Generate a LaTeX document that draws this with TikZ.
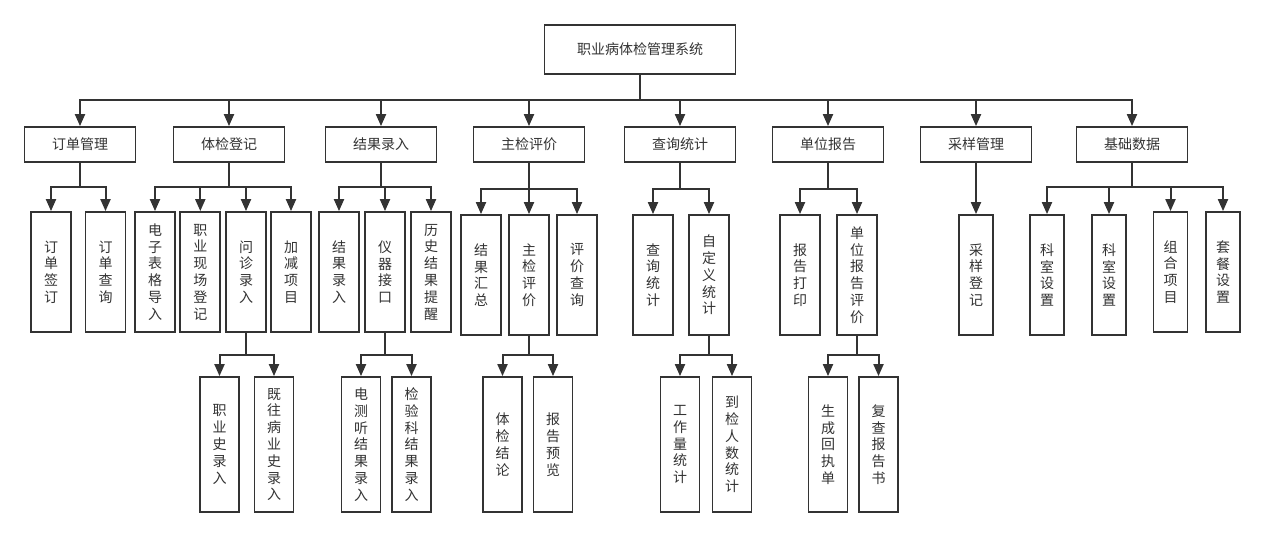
\documentclass[tikz,border=0pt]{standalone}
\usepackage{fontspec}
\newfontfamily\cjk{Noto Sans CJK SC}
\usetikzlibrary{arrows.meta}
\definecolor{ln}{HTML}{333333}
\begin{document}
\begin{tikzpicture}[x=1pt,y=-1pt,
  box/.style={draw=ln, line width=1.8pt, fill=white, text=ln, inner sep=0pt, align=center,
    font=\cjk\fontsize{14}{16.8}\selectfont},
  rootbox/.style={box, minimum width=191pt, minimum height=49pt},
  lone/.style={box, minimum width=111pt, minimum height=35pt},
  ltwo/.style={box, minimum width=40pt, minimum height=120pt},
  ltwon/.style={box, minimum width=34pt, minimum height=120pt},
  lthree/.style={box, minimum width=39pt, minimum height=135pt},
  arr/.style={draw=ln, line width=2pt, line join=miter, -{Triangle[width=10pt,length=12pt]}}
]
\useasboundingbox (0,0) rectangle (1265,536);

% root
\node[rootbox] (root) at (640,49.5) {职业病体检管理系统};

% level 1
\node[lone] (A) at (80,144.5) {订单管理};
\node[lone] (B) at (229,144.5) {体检登记};
\node[lone] (C) at (381,144.5) {结果录入};
\node[lone] (D) at (529,144.5) {主检评价};
\node[lone] (E) at (680,144.5) {查询统计};
\node[lone] (F) at (828,144.5) {单位报告};
\node[lone] (G) at (976,144.5) {采样管理};
\node[lone] (H) at (1132,144.5) {基础数据};

% level 2
\node[ltwo] (A1) at (51,272) {订\\单\\签\\订};
\node[ltwo] (A2) at (105.5,272) {订\\单\\查\\询};
\node[ltwo] (B1) at (155,272) {电\\子\\表\\格\\导\\入};
\node[ltwo] (B2) at (200.3,272) {职\\业\\现\\场\\登\\记};
\node[ltwo] (B3) at (246,272) {问\\诊\\录\\入};
\node[ltwo] (B4) at (291,272) {加\\减\\项\\目};
\node[ltwo] (C1) at (339,272) {结\\果\\录\\入};
\node[ltwo] (C2) at (385,272) {仪\\器\\接\\口};
\node[ltwo] (C3) at (431,272) {历\\史\\结\\果\\提\\醒};
\node[ltwo] (D1) at (481,275) {结\\果\\汇\\总};
\node[ltwo] (D2) at (529,275) {主\\检\\评\\价};
\node[ltwo] (D3) at (577,275) {评\\价\\查\\询};
\node[ltwo] (E1) at (653,275) {查\\询\\统\\计};
\node[ltwo] (E2) at (709,275) {自\\定\\义\\统\\计};
\node[ltwo] (F1) at (800,275) {报\\告\\打\\印};
\node[ltwo] (F2) at (857,275) {单\\位\\报\\告\\评\\价};
\node[ltwon] (G1) at (976,275) {采\\样\\登\\记};
\node[ltwon] (H1) at (1047,275) {科\\室\\设\\置};
\node[ltwon] (H2) at (1109,275) {科\\室\\设\\置};
\node[ltwon] (H3) at (1170.5,272) {组\\合\\项\\目};
\node[ltwon] (H4) at (1223,272) {套\\餐\\设\\置};

% level 3
\node[lthree] (B3a) at (219.5,444.5) {职\\业\\史\\录\\入};
\node[lthree] (B3b) at (274,444.5) {既\\往\\病\\业\\史\\录\\入};
\node[lthree] (C2a) at (361,444.5) {电\\测\\听\\结\\果\\录\\入};
\node[lthree] (C2b) at (411.5,444.5) {检\\验\\科\\结\\果\\录\\入};
\node[lthree] (D2a) at (502.5,444.5) {体\\检\\结\\论};
\node[lthree] (D2b) at (553,444.5) {报\\告\\预\\览};
\node[lthree] (E2a) at (680,444.5) {工\\作\\量\\统\\计};
\node[lthree] (E2b) at (732,444.5) {到\\检\\人\\数\\统\\计};
\node[lthree] (F2a) at (828,444.5) {生\\成\\回\\执\\单};
\node[lthree] (F2b) at (878.5,444.5) {复\\查\\报\\告\\书};

% connectors: root to level 1
\foreach \c in {A,B,C,D,E,F,G,H}
  \draw[arr] (root.south) |- (\c.north |- 0,100) -- (\c.north);

% level 1 to level 2
\foreach \p/\c in {A/A1,A/A2,B/B1,B/B2,B/B3,B/B4,C/C1,C/C2,C/C3,H/H1,H/H2,H/H3,H/H4}
  \draw[arr] (\p.south) |- (\c.north |- 0,187) -- (\c.north);
\foreach \p/\c in {D/D1,D/D2,D/D3,E/E1,E/E2,F/F1,F/F2}
  \draw[arr] (\p.south) |- (\c.north |- 0,189) -- (\c.north);
\draw[arr] (G.south) -- (G1.north);

% level 2 to level 3
\foreach \p/\c in {B3/B3a,B3/B3b,C2/C2a,C2/C2b,D2/D2a,D2/D2b,E2/E2a,E2/E2b,F2/F2a,F2/F2b}
  \draw[arr] (\p.south) |- (\c.north |- 0,355) -- (\c.north);
\end{tikzpicture}
\end{document}
